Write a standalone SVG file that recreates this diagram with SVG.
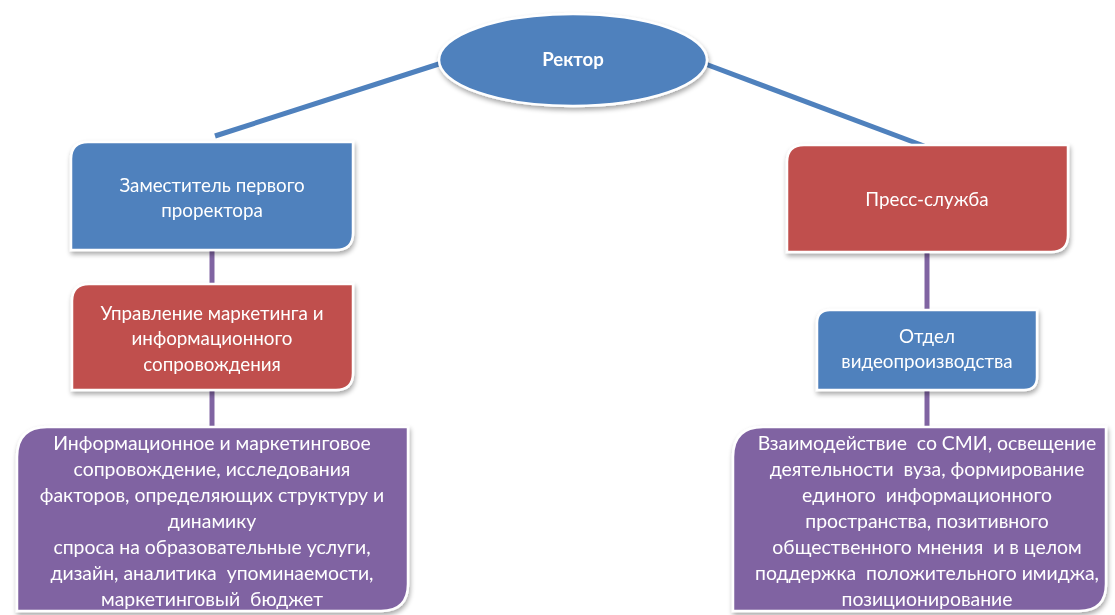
<svg xmlns="http://www.w3.org/2000/svg" width="1115" height="615" viewBox="0 0 1115 615">
<defs>
<filter id="sh" x="-10%" y="-10%" width="120%" height="130%">
<feGaussianBlur in="SourceAlpha" stdDeviation="2.5"/>
<feOffset dx="1" dy="3" result="b"/>
<feComponentTransfer><feFuncA type="linear" slope="0.35"/></feComponentTransfer>
<feMerge><feMergeNode/><feMergeNode in="SourceGraphic"/></feMerge>
</filter>
</defs>
<style>
.blue{fill:#4F81BD;stroke:#fff;stroke-width:2.5}
.red{fill:#C0504D;stroke:#fff;stroke-width:2.5}
.purple{fill:#8064A2;stroke:#fff;stroke-width:2.5}
text{font-family:Lato,"Open Sans","Liberation Sans",sans-serif;fill:#fff;text-anchor:middle;white-space:pre}
.t{font-size:18.8px}
.tb{font-size:19.4px}
.cb{stroke:#4F81BD;stroke-width:5;fill:none}
.cp{stroke:#8064A2;stroke-width:5;fill:none}
</style>
<rect width="1115" height="615" fill="#fff"/>
<g id="connectors">
<line class="cb" x1="445" y1="62" x2="215" y2="136"/>
<line class="cb" x1="700" y1="62" x2="924" y2="146"/>
<line class="cp" x1="212" y1="250" x2="212" y2="284"/>
<line class="cp" x1="212" y1="390" x2="212" y2="428"/>
<line class="cp" x1="927" y1="252" x2="927" y2="310"/>
<line class="cp" x1="927" y1="390" x2="927" y2="428"/>
</g>
<g id="rector" filter="url(#sh)">
<ellipse class="blue" cx="573" cy="60" rx="134" ry="46"/>
<text x="573" y="66" style="font-size:18.6px;font-weight:bold">Ректор</text>
</g>
<g id="zam" filter="url(#sh)">
<path class="blue" d="M88,142 H353 V233 Q353,250 336,250 H71 V159 Q71,142 88,142 Z"/>
<text class="t" x="212" y="192">Заместитель первого</text>
<text class="t" x="212" y="217">проректора</text>
</g>
<g id="upr" filter="url(#sh)">
<path class="red" d="M89,284 H353 V373 Q353,390 336,390 H72 V301 Q72,284 89,284 Z"/>
<text class="t" x="212" y="320">Управление маркетинга и</text>
<text class="t" x="212" y="345">информационного</text>
<text class="t" x="212" y="371">сопровождения</text>
</g>
<g id="info" filter="url(#sh)">
<path class="purple" d="M47,427 H408 V584 Q408,611 381,611 H17 V457 Q17,427 47,427 Z"/>
<text class="tb" x="212" y="450">Информационное и маркетинговое</text>
<text class="tb" x="212" y="476">сопровождение, исследования</text>
<text class="tb" x="212" y="502">факторов, определяющих структуру и</text>
<text class="tb" x="212" y="528">динамику</text>
<text class="tb" x="212" y="554">спроса на образовательные услуги,</text>
<text class="tb" x="212" y="580">дизайн, аналитика  упоминаемости,</text>
<text class="tb" x="212" y="606">маркетинговый  бюджет</text>
</g>
<g id="press" filter="url(#sh)">
<path class="red" d="M804,145 H1068 V235 Q1068,252 1051,252 H787 V162 Q787,145 804,145 Z"/>
<text class="t" x="927" y="206">Пресс-служба</text>
</g>
<g id="video" filter="url(#sh)">
<path class="blue" d="M830,310 H1037 V377 Q1037,390 1024,390 H817 V323 Q817,310 830,310 Z"/>
<text class="t" x="927" y="343">Отдел</text>
<text class="t" x="927" y="368">видеопроизводства</text>
</g>
<g id="smi" filter="url(#sh)">
<path class="purple" d="M763,427 H1106 V584 Q1106,611 1079,611 H733 V457 Q733,427 763,427 Z"/>
<text class="tb" x="927" y="450">Взаимодействие  со СМИ, освещение</text>
<text class="tb" x="927" y="476">деятельности  вуза, формирование</text>
<text class="tb" x="927" y="502">единого  информационного</text>
<text class="tb" x="927" y="528">пространства, позитивного</text>
<text class="tb" x="927" y="554">общественного мнения  и в целом</text>
<text class="tb" x="927" y="580">поддержка  положительного имиджа,</text>
<text class="tb" x="927" y="606">позиционирование</text>
</g>
</svg>
